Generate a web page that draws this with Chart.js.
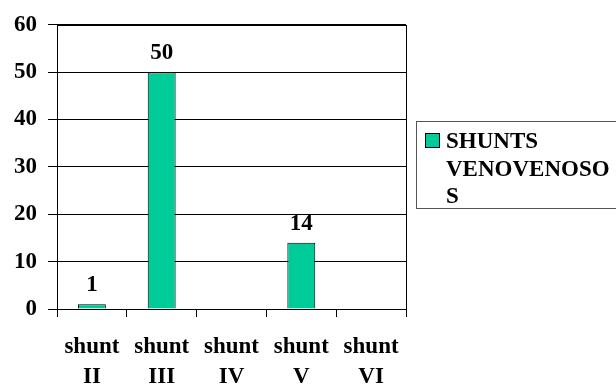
<!DOCTYPE html>
<html>
<head>
<meta charset="utf-8">
<script src="https://cdn.jsdelivr.net/npm/chart.js@4"></script>
<style>
  body { margin: 0; background: #fff; }
  #wrap { width: 616px; height: 387px; }
</style>
</head>
<body>
<div id="wrap"><canvas id="myChart" width="616" height="387"></canvas></div>
<script>
// data
var categories = [["shunt", "II"], ["shunt", "III"], ["shunt", "IV"], ["shunt", "V"], ["shunt", "VI"]];
var values = [1, 50, 0, 14, 0];
var seriesName = ["SHUNTS", "VENOVENOSO", "S"];
var yMin = 0, yMax = 60, yStep = 10;

var barColor = "#00CC99";
var fontFam = "'Liberation Serif', 'Times New Roman', serif";

// value labels above bars
var valueLabels = {
  id: "valueLabels",
  afterDatasetsDraw: function(chart) {
    var ctx = chart.ctx;
    var meta = chart.getDatasetMeta(0);
    ctx.save();
    ctx.font = "bold 23px " + fontFam;
    ctx.fillStyle = "#000";
    ctx.textAlign = "center";
    ctx.textBaseline = "alphabetic";
    meta.data.forEach(function(bar, i) {
      if (values[i] > 0) ctx.fillText(values[i], bar.x, bar.y - 13);
    });
    ctx.restore();
  }
};

// frame round plot + legend box on the right
var frameAndLegend = {
  id: "frameAndLegend",
  afterDraw: function(chart) {
    var ctx = chart.ctx, a = chart.chartArea;
    ctx.save();
    ctx.strokeStyle = "#000";
    ctx.lineWidth = 1;
    ctx.strokeRect(Math.round(a.left) + 0.5, Math.round(a.top) + 0.5,
                   Math.round(a.right - a.left), Math.round(a.bottom - a.top));

    // legend
    ctx.strokeStyle = "#555";
    ctx.strokeRect(416.5, 121.5, 220, 87);
    ctx.fillStyle = barColor;
    ctx.fillRect(425, 133, 14, 14);
    ctx.strokeStyle = "#000";
    ctx.strokeRect(425.5, 133.5, 14, 14);
    ctx.fillStyle = "#000";
    ctx.font = "bold 23px " + fontFam;
    ctx.textAlign = "left";
    ctx.textBaseline = "alphabetic";
    seriesName.forEach(function(line, i) {
      ctx.fillText(line, 446, 148 + i * 27.5);
    });
    ctx.restore();
  }
};

new Chart("myChart", {
  type: "bar",
  data: {
    labels: categories,
    datasets: [{
      label: seriesName.join(""),
      data: values,
      backgroundColor: barColor,
      borderColor: "#000",
      borderWidth: function(c) { return c.raw > 0 ? 1 : 0; },
      borderSkipped: "bottom",
      barPercentage: 0.4,
      categoryPercentage: 1
    }]
  },
  plugins: [valueLabels, frameAndLegend],
  options: {
    responsive: false,
    animation: false,
    layout: { padding: { top: 21, right: 210, left: 0, bottom: 0 } },
    plugins: {
      legend: { display: false },
      title: { display: false },
      tooltip: { enabled: false }
    },
    scales: {
      x: {
        offset: true,
        grid: { display: true, drawOnChartArea: false, offset: true, color: "#000", tickLength: 8 },
        border: { display: true, color: "#000" },
        ticks: {
          color: "#000",
          font: { family: fontFam, size: 23, weight: "bold", lineHeight: 1.3 },
          padding: 15,
          maxRotation: 0,
          autoSkip: false
        },
        afterFit: function(s) { s.height = 78; }
      },
      y: {
        min: yMin,
        max: yMax,
        grid: { color: "#000", tickLength: 9 },
        border: { display: true, color: "#000" },
        ticks: {
          stepSize: yStep,
          color: "#000",
          font: { family: fontFam, size: 23, weight: "bold" },
          padding: 11
        },
        afterFit: function(s) { s.width = 57; }
      }
    }
  }
});
</script>
</body>
</html>
